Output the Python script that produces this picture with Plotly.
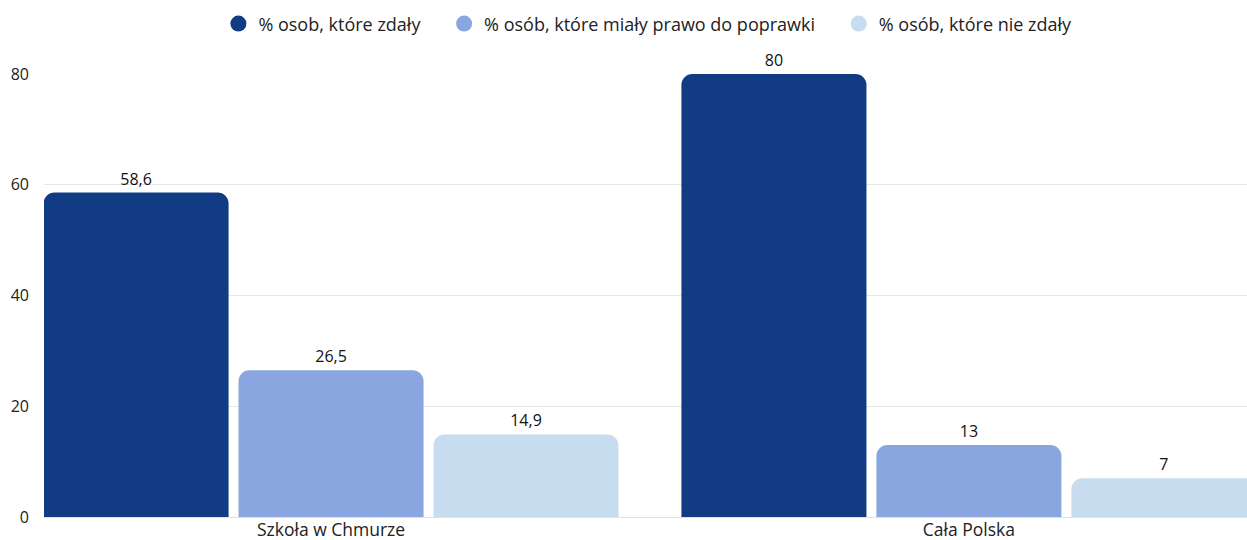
import plotly.graph_objects as go

categories = ["Szkoła w Chmurze", "Cała Polska"]
series_names = ["% osob, które zdały", "% osób, które miały prawo do poprawki", "% osób, które nie zdały"]
passed = [58.6, 80]
retake = [26.5, 13]
failed = [14.9, 7]
y_ticks = [0, 20, 40, 60, 80]

colors = ["#113b83", "#89a6e0", "#c8dcf0"]
FONT = "Open Sans, Noto Sans, sans-serif"

def fmt(v):
    s = ("%g" % v)
    return s.replace(".", ",")

fig = go.Figure()
for name, vals, col in zip(series_names, [passed, retake, failed], colors):
    fig.add_trace(go.Bar(
        x=categories, y=vals, name=name, marker=dict(color=col, cornerradius=11, line=dict(width=0)),
        text=[fmt(v) for v in vals], textposition="outside",
        textfont=dict(size=16, color="#111111", family=FONT),
        showlegend=False, cliponaxis=False,
    ))
# legend entries with circle markers
pad = "\u00a0" * 4
for i, (name, col) in enumerate(zip(series_names, colors)):
    label = name + (pad if i < len(series_names) - 1 else "")
    fig.add_trace(go.Scatter(
        x=[categories[0]], y=[None], mode="markers", name=label,
        marker=dict(symbol="circle", size=16, color=col), showlegend=True,
    ))

fig.update_layout(
    width=1247, height=540,
    paper_bgcolor="white", plot_bgcolor="white",
    margin=dict(l=44, r=0, t=74, b=23),
    barmode="group", bargap=0.083, bargroupgap=0.051,
    font=dict(family=FONT, size=16, color="#222222"),
    legend=dict(orientation="h", x=0.502, xanchor="center", y=0.99, yanchor="top",
                yref="container", font=dict(size=18, color="#222222"),
                itemsizing="trace", itemwidth=30, traceorder="normal"),
    xaxis=dict(range=[-0.45, 1.436], showgrid=False, showline=False, zeroline=False,
               ticks="", automargin=False, tickfont=dict(size=17.5)),
    yaxis=dict(range=[0, 80], tickvals=y_ticks, showgrid=True, gridcolor="#e6e6e6",
               gridwidth=1, zeroline=True, zerolinecolor="#e0e0e0", zerolinewidth=1,
               showline=False, ticks="", ticklabelstandoff=14, automargin=False,
               tickfont=dict(size=16)),
)
fig.write_html("out.html", config={"displayModeBar": False},
               post_script="document.body.style.margin='0';document.documentElement.style.overflow='hidden';")
